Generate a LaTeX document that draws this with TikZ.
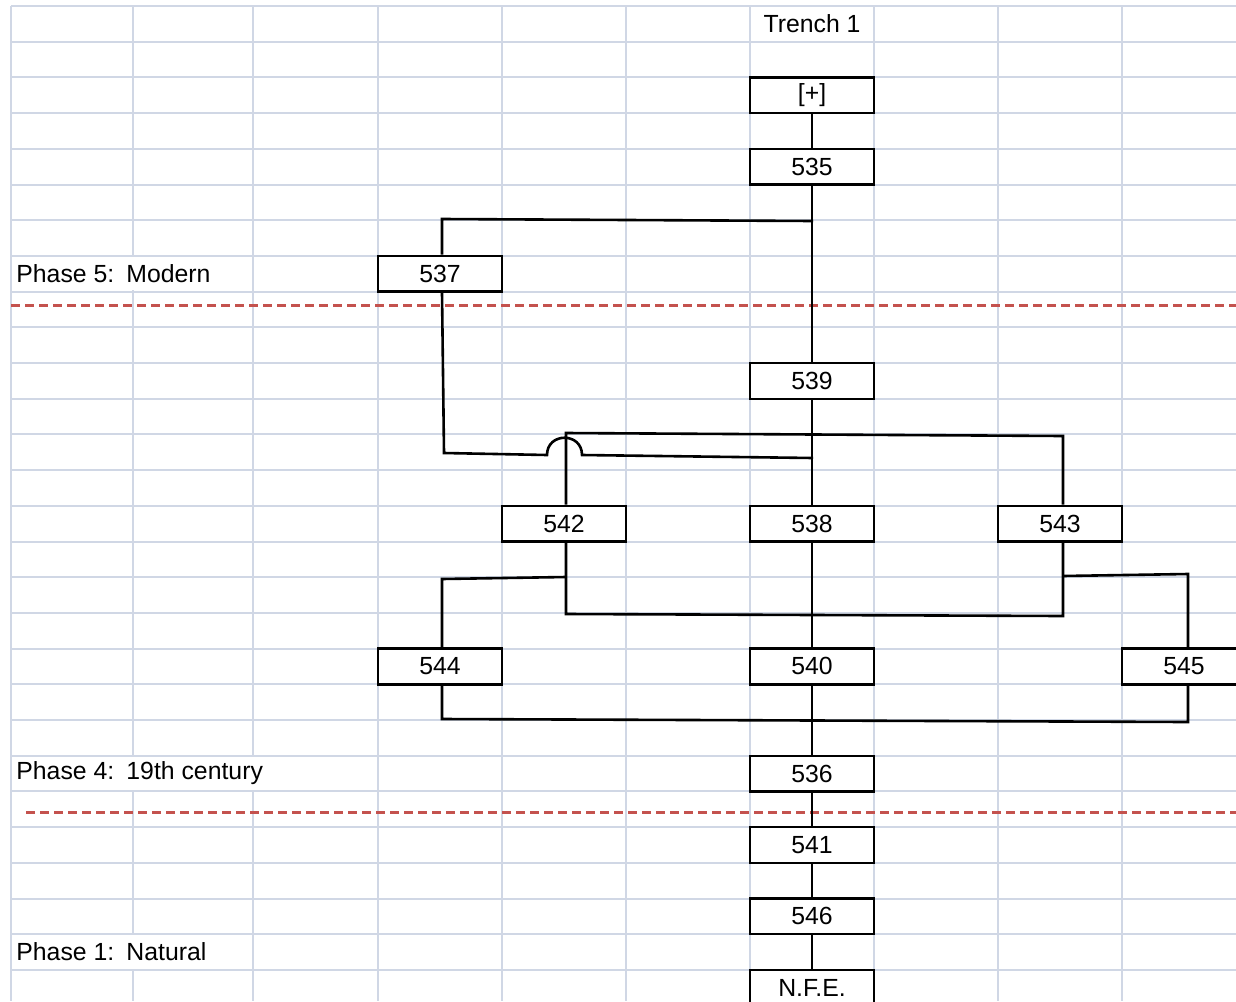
\documentclass[tikz,border=0pt]{standalone}
\usepackage{fontspec}
\setmainfont{Liberation Sans}
\usetikzlibrary{positioning}
\definecolor{gridline}{RGB}{208,215,229}
\definecolor{phasered}{RGB}{196,82,78}
\tikzset{
	unit/.style={draw, fill=white, line width=1.2pt, minimum width=62pt, minimum height=17.85pt, inner sep=0pt},
	phase/.style={anchor=west, fill=white, minimum height=16.7pt, inner xsep=2pt, inner ysep=0pt},
	link/.style={line width=1.3pt},
	divider/.style={phasered, line width=1.5pt, dash pattern=on 4.5pt off 2.5pt}
}

\begin{document}
\begin{tikzpicture}[x=0.5pt, y=-0.5pt, font=\fontsize{12.4}{14.8}\selectfont]
	\clip (0,0) rectangle (1236,1001);
	\fill[white] (0,0) rectangle (1236,1001);
	\foreach \x in {11,133,253,378,502,626,750,874,998,1122}
		\draw[gridline, line width=1pt] (\x,6) -- (\x,1001);
	\foreach \k in {0,...,27}
		\draw[gridline, line width=1pt] (11,6+35.7*\k) -- (1236,6+35.7*\k);
	\node (trench) at (812, 23.85) {Trench 1};
	\node[phase] (p5) at (12, 273.75) {Phase 5: \hspace{0.12em}Modern};
	\node[phase] (p4) at (12, 773.55) {Phase 4: \hspace{0.12em}19th century};
	\node[phase] (p1) at (12, 952.05) {Phase 1: \hspace{0.12em}Natural};
	\draw[divider] (11,305) -- (1236,305);
	\draw[divider] (26,812) -- (1236,812);
	\node[unit] (plus) at (812, 95.25) {[+]};
	\node[unit] (535) at (812, 166.65) {535};
	\node[unit] (537) at (440, 273.75) {537};
	\node[unit] (539) at (812, 380.85) {539};
	\node[unit] (542) at (564, 523.65) {542};
	\node[unit] (538) at (812, 523.65) {538};
	\node[unit] (543) at (1060, 523.65) {543};
	\node[unit] (544) at (440, 666.45) {544};
	\node[unit] (540) at (812, 666.45) {540};
	\node[unit] (545) at (1184, 666.45) {545};
	\node[unit] (536) at (812, 773.55) {536};
	\node[unit] (541) at (812, 845) {541};
	\node[unit] (546) at (812, 916.35) {546};
	\node[unit] (nfe) at (812, 987.75) {N.F.E.};
	\coordinate (b1) at (813, 221);
	\coordinate (b2) at (442, 219);
	\coordinate (c1) at (444, 453);
	\coordinate (c2) at (547, 455);
	\coordinate (c3) at (582, 455);
	\coordinate (c4) at (813, 458);
	\coordinate (d1) at (566, 433);
	\coordinate (d2) at (1063, 436);
	\coordinate (e1) at (566, 577);
	\coordinate (e2) at (442, 579);
	\coordinate (e3) at (566, 614);
	\coordinate (e4) at (1063, 616);
	\coordinate (e5) at (1063, 576);
	\coordinate (e6) at (1188, 574);
	\coordinate (f1) at (442, 719);
	\coordinate (f2) at (1188, 722);
	\draw[link] (plus) -- (535);
	\draw[link] (535) -- (539);
	\draw[link] (539) -- (538);
	\draw[link] (538) -- (540);
	\draw[link] (540) -- (536);
	\draw[link] (536) -- (541);
	\draw[link] (541) -- (546);
	\draw[link] (546) -- (nfe);
	\draw[link] (b1) -- (b2) -- (b2 |- 537.north);
	\draw[link] (b2 |- 537.south) -- (c1) -- (c2) .. controls (547,432) and (582,432) .. (c3) -- (c4);
	\draw[link] (d1 |- 542.north) -- (d1) -- (d2) -- (d2 |- 543.north);
	\draw[link] (e1 |- 542.south) -- (e3) -- (e4) -- (e4 |- 543.south);
	\draw[link] (e1) -- (e2) -- (e2 |- 544.north);
	\draw[link] (e5) -- (e6) -- (e6 |- 545.north);
	\draw[link] (f1 |- 544.south) -- (f1) -- (f2) -- (f2 |- 545.south);
\end{tikzpicture}
\end{document}
